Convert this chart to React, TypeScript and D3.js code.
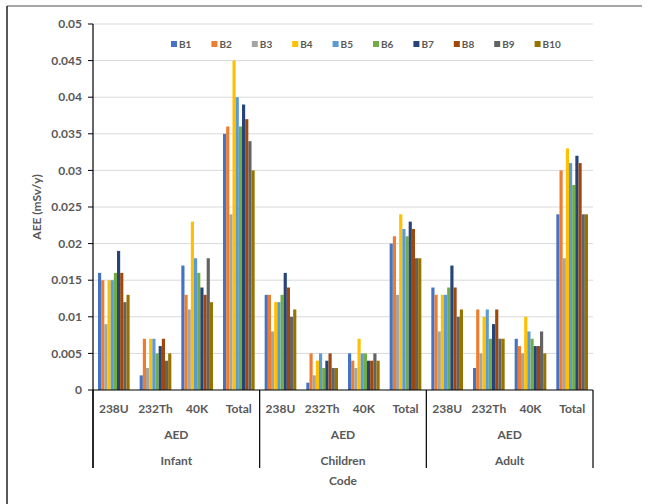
import React, { useEffect, useRef } from 'react';
import * as d3 from 'd3';

const groups = ['Infant', 'Children', 'Adult'];
const codes = ['238U', '232Th', '40K', 'Total'];
const series = ['B1', 'B2', 'B3', 'B4', 'B5', 'B6', 'B7', 'B8', 'B9', 'B10'];
const colors = ['#4472C4', '#ED7D31', '#A5A5A5', '#FFC000', '#5B9BD5', '#70AD47', '#264478', '#9E480E', '#636363', '#997300'];
const yTicks = [0, 0.005, 0.01, 0.015, 0.02, 0.025, 0.03, 0.035, 0.04, 0.045, 0.05];

// values per category (group x code), one entry per series B1..B10
const infant238U = [0.016, 0.015, 0.009, 0.015, 0.015, 0.016, 0.019, 0.016, 0.012, 0.013];
const infant232Th = [0.002, 0.007, 0.003, 0.007, 0.007, 0.005, 0.006, 0.007, 0.004, 0.005];
const infant40K = [0.017, 0.013, 0.011, 0.023, 0.018, 0.016, 0.014, 0.013, 0.018, 0.012];
const infantTotal = [0.035, 0.036, 0.024, 0.045, 0.04, 0.036, 0.039, 0.037, 0.034, 0.03];
const children238U = [0.013, 0.013, 0.008, 0.012, 0.012, 0.013, 0.016, 0.014, 0.01, 0.011];
const children232Th = [0.001, 0.005, 0.002, 0.004, 0.005, 0.003, 0.004, 0.005, 0.003, 0.003];
const children40K = [0.005, 0.004, 0.003, 0.007, 0.005, 0.005, 0.004, 0.004, 0.005, 0.004];
const childrenTotal = [0.02, 0.021, 0.013, 0.024, 0.022, 0.021, 0.023, 0.022, 0.018, 0.018];
const adult238U = [0.014, 0.013, 0.008, 0.013, 0.013, 0.014, 0.017, 0.014, 0.01, 0.011];
const adult232Th = [0.003, 0.011, 0.005, 0.01, 0.011, 0.007, 0.009, 0.011, 0.007, 0.007];
const adult40K = [0.007, 0.006, 0.005, 0.01, 0.008, 0.007, 0.006, 0.006, 0.008, 0.005];
const adultTotal = [0.024, 0.03, 0.018, 0.033, 0.031, 0.028, 0.032, 0.031, 0.024, 0.024];

const values = [
  infant238U, infant232Th, infant40K, infantTotal,
  children238U, children232Th, children40K, childrenTotal,
  adult238U, adult232Th, adult40K, adultTotal,
];

const FONT = 'Lato, "Open Sans", sans-serif';
const TEXT = '#595959';

const App: React.FC = () => {
  const svgRef = useRef<SVGSVGElement>(null);

  useEffect(() => {
    if (!svgRef.current) return;
    const svg = d3.select(svgRef.current);
    svg.selectAll('*').remove();

    const left = 93, right = 593, top = 24, bottom = 390, lineEnd = 468;

    // outer frame
    svg.append('line').attr('x1', 7).attr('x2', 642).attr('y1', 6).attr('y2', 6)
      .attr('stroke', '#888').attr('stroke-width', 1.5);
    svg.append('line').attr('x1', 7).attr('x2', 7).attr('y1', 6).attr('y2', 504)
      .attr('stroke', '#222').attr('stroke-width', 1.5);

    const y = d3.scaleLinear().domain([0, 0.05]).range([bottom, top]);

    const cats = d3.range(values.length).map(String);
    const x0 = d3.scaleBand().domain(cats).range([left, right]).padding(0);
    const slot = x0.bandwidth();
    const x1 = d3.scaleBand().domain(series).range([slot * 0.12, slot * 0.88]).padding(0);

    // gridlines
    svg.append('g').selectAll('line').data(yTicks.slice(1)).enter().append('line')
      .attr('x1', left).attr('x2', right)
      .attr('y1', d => y(d)).attr('y2', d => y(d))
      .attr('stroke', '#d9d9d9').attr('stroke-width', 1);

    // bars
    const cat = svg.append('g').selectAll('g').data(values).enter().append('g')
      .attr('transform', (_, i) => `translate(${x0(String(i))},0)`);
    cat.selectAll('rect').data(d => d).enter().append('rect')
      .attr('x', (_, j) => x1(series[j]) as number)
      .attr('width', x1.bandwidth())
      .attr('y', d => y(d))
      .attr('height', d => bottom - y(d))
      .attr('fill', (_, j) => colors[j]);

    // y axis
    svg.append('line').attr('x1', left).attr('x2', left).attr('y1', top).attr('y2', lineEnd)
      .attr('stroke', '#000').attr('stroke-width', 1.2);
    const yt = svg.append('g').selectAll('g').data(yTicks).enter().append('g');
    yt.append('line').attr('x1', left - 5).attr('x2', left)
      .attr('y1', d => y(d)).attr('y2', d => y(d)).attr('stroke', '#000');
    yt.append('text')
      .attr('x', left - 11).attr('y', d => y(d)).attr('dy', '0.35em')
      .attr('text-anchor', 'end')
      .style('font-family', FONT).style('font-size', '12px').style('font-weight', 700)
      .style('fill', TEXT)
      .text(d => String(+d.toFixed(3)));

    svg.append('text')
      .attr('transform', `translate(41,${(top + bottom) / 2}) rotate(-90)`)
      .attr('text-anchor', 'middle')
      .style('font-family', FONT).style('font-size', '12px').style('font-weight', 700)
      .style('fill', TEXT)
      .text('AEE (mSv/y)');

    // x axis
    svg.append('line').attr('x1', left).attr('x2', right).attr('y1', bottom).attr('y2', bottom)
      .attr('stroke', '#000').attr('stroke-width', 1.2);

    const groupW = (right - left) / groups.length;
    d3.range(groups.length + 1).forEach(i => {
      svg.append('line')
        .attr('x1', left + i * groupW).attr('x2', left + i * groupW)
        .attr('y1', bottom).attr('y2', lineEnd)
        .attr('stroke', '#000').attr('stroke-width', 1.2);
    });

    const labelStyle = (s: d3.Selection<SVGTextElement, any, any, any>) =>
      s.attr('text-anchor', 'middle').attr('dy', '0.35em')
        .style('font-family', FONT).style('font-size', '12px').style('font-weight', 700)
        .style('fill', TEXT);

    cats.forEach((c, i) => {
      svg.append('text')
        .attr('x', (x0(c) as number) + slot / 2).attr('y', 409)
        .call(labelStyle)
        .text(codes[i % codes.length]);
    });

    groups.forEach((g, i) => {
      const cx = left + (i + 0.5) * groupW;
      svg.append('text').attr('x', cx).attr('y', 435).call(labelStyle).text('AED');
      svg.append('text').attr('x', cx).attr('y', 461).call(labelStyle).text(g);
    });

    svg.append('text').attr('x', left + (right - left) / 2).attr('y', 481)
      .call(labelStyle).text('Code');

    // legend
    const legend = svg.append('g').attr('transform', 'translate(171,44)');
    series.forEach((s, i) => {
      const row = legend.append('g').attr('transform', `translate(${i * 40.4},0)`);
      row.append('rect').attr('x', 0).attr('y', -3).attr('width', 6).attr('height', 6)
        .attr('fill', colors[i]);
      row.append('text').attr('x', 8).attr('y', 0).attr('dy', '0.35em')
        .style('font-family', FONT).style('font-size', '10px').style('font-weight', 700)
        .style('fill', TEXT)
        .text(s);
    });
  }, []);

  return (
    <svg
      ref={svgRef}
      width={651}
      height={504}
      style={{ position: 'absolute', left: 0, top: 0, background: '#fff' }}
    />
  );
};

export default App;
